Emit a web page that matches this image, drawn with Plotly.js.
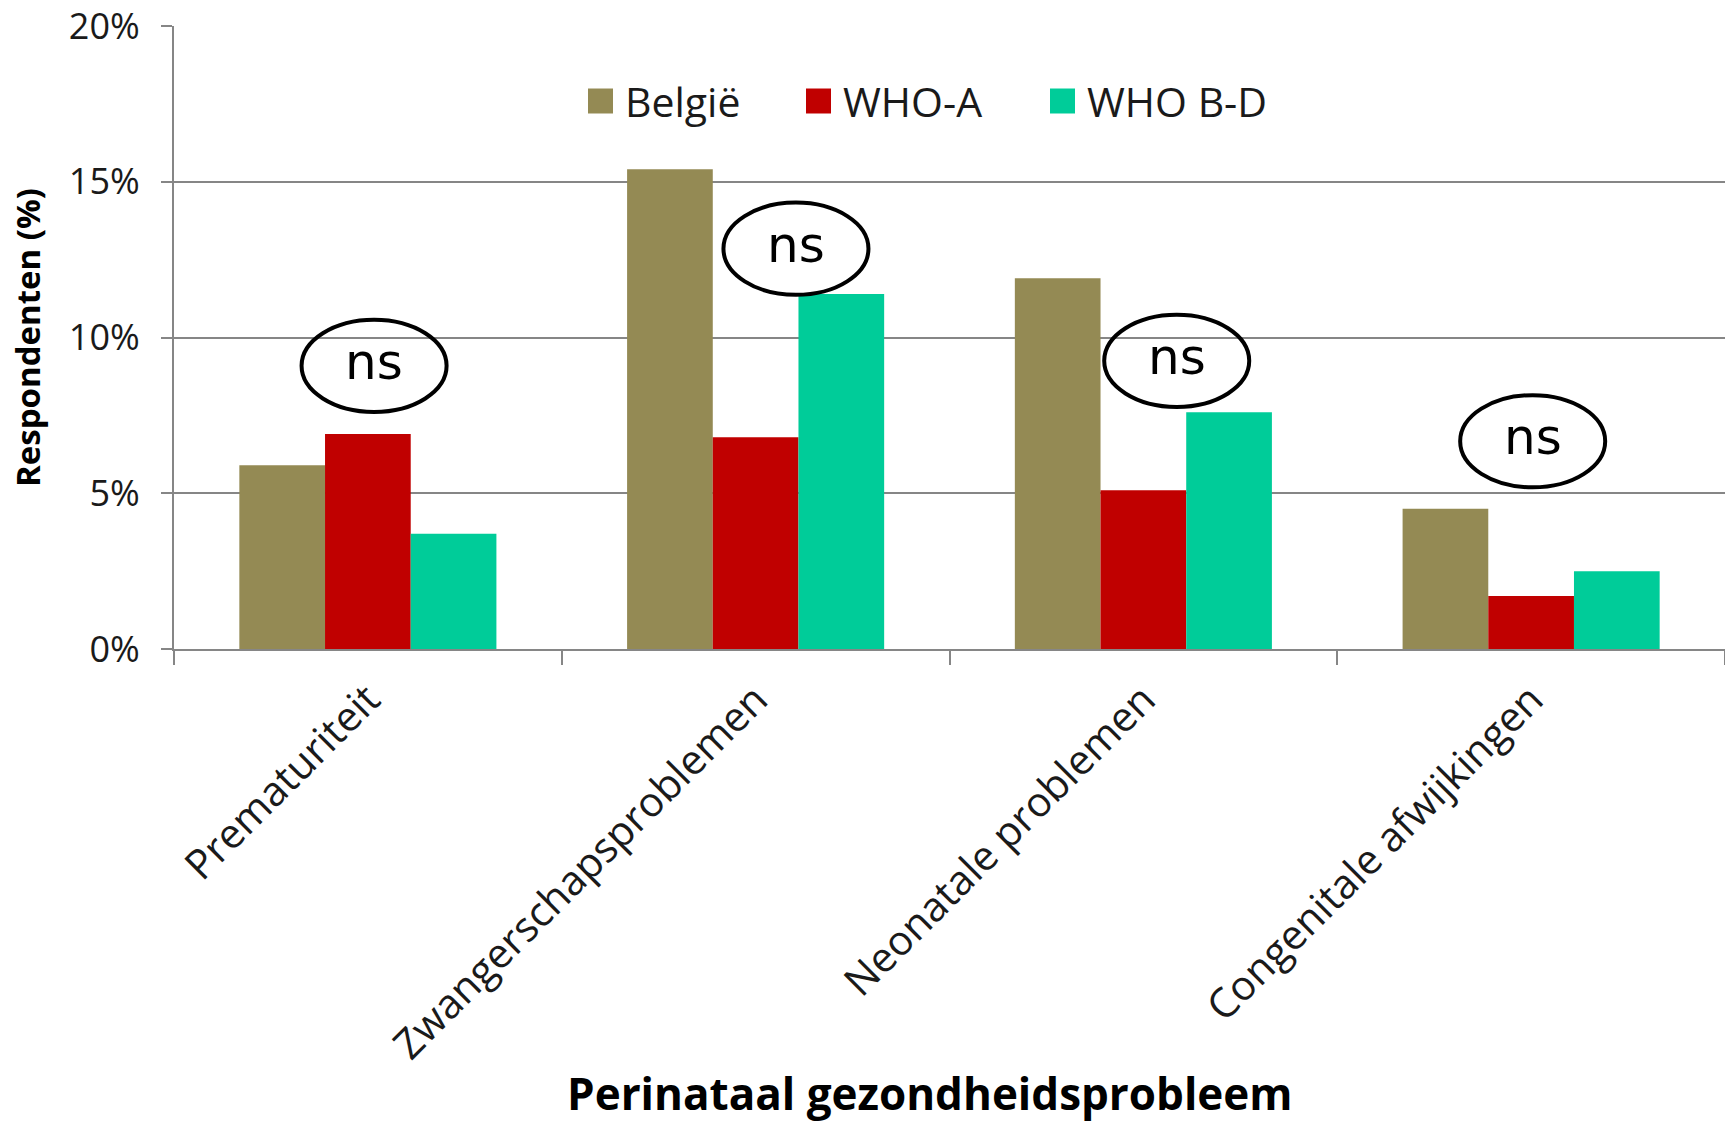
<!DOCTYPE html>
<html>
<head>
<meta charset="utf-8">
<script src="https://cdn.plot.ly/plotly-3.0.1.min.js"></script>
<style>html,body{margin:0;padding:0;background:#fff;}#chart{width:1725px;height:1131px;}</style>
</head>
<body>
<div id="chart"></div>
<script>
// ---- data ----
const categories = ['Prematuriteit', 'Zwangerschapsproblemen', 'Neonatale problemen', 'Congenitale afwijkingen'];
const seriesNames = ['België', 'WHO-A', 'WHO B-D'];
const belgie = [5.9, 15.4, 11.9, 4.5];
const whoA = [6.9, 6.8, 5.1, 1.7];
const whoBD = [3.7, 11.4, 7.6, 2.5];
const significance = ['ns', 'ns', 'ns', 'ns'];
const yTickVals = [0, 5, 10, 15, 20];
const yTickText = ['0%', '5%', '10%', '15%', '20%'];
const xTitle = 'Perinataal gezondheidsprobleem';
const yTitle = 'Respondenten (%)';

// ---- styling ----
const colors = ['#948A54', '#C00000', '#00CC99'];
const W = 1725, H = 1131;
const M = {l: 174, r: 0, t: 26, b: 482};
const gray = '#868686';
const txt = '#1a1a1a';
// ellipse centres (category index offset, y in %) and half sizes
const nsPos = [[0.016, 9.09], [1.104, 12.85], [2.086, 9.25], [3.004, 6.67]];
const nsRx = 0.187, nsRy = 1.48;
// legend placement in pixels
const legendX = [588, 806, 1050];
const legendY = 101, legendSq = 25;
// x title placement in pixels
const xTitleX = 930, xTitleY = 1093;

const pw = W - M.l - M.r, ph = H - M.t - M.b;
const px2x = p => (p - M.l) / pw;
const px2y = p => (H - M.b - p) / ph;

const series = [belgie, whoA, whoBD];
const traces = series.map((vals, i) => ({
  type: 'bar',
  name: seriesNames[i],
  x: categories,
  y: vals,
  marker: {color: colors[i], line: {width: 0}},
  showlegend: false,
  hoverinfo: 'skip'
}));

const shapes = [];
const annotations = [];
nsPos.forEach((p, i) => {
  shapes.push({type: 'circle', xref: 'x', yref: 'y',
    x0: p[0] - nsRx, x1: p[0] + nsRx, y0: p[1] - nsRy, y1: p[1] + nsRy,
    line: {color: '#000', width: 4}, fillcolor: 'rgba(255,255,255,0)'});
  annotations.push({xref: 'x', yref: 'y', x: p[0], y: p[1], text: significance[i],
    showarrow: false, xanchor: 'center', yanchor: 'middle', yshift: 4,
    font: {family: 'DejaVu Sans', size: 50, color: '#000'}});
});
seriesNames.forEach((n, i) => {
  shapes.push({type: 'rect', xref: 'paper', yref: 'paper',
    x0: px2x(legendX[i]), x1: px2x(legendX[i] + legendSq),
    y0: px2y(legendY + legendSq / 2), y1: px2y(legendY - legendSq / 2),
    line: {width: 0}, fillcolor: colors[i]});
  annotations.push({xref: 'paper', yref: 'paper', x: px2x(legendX[i] + legendSq + 10), y: px2y(legendY),
    text: n, showarrow: false, xanchor: 'left', yanchor: 'middle',
    font: {family: 'Open Sans', size: 41, color: txt}});
});
annotations.push({xref: 'paper', yref: 'paper', x: px2x(xTitleX), y: px2y(xTitleY),
  text: xTitle, showarrow: false, xanchor: 'center', yanchor: 'middle',
  font: {family: 'Open Sans', size: 44, weight: 'bold', color: '#000'}});

const layout = {
  width: W, height: H,
  margin: M,
  paper_bgcolor: '#fff', plot_bgcolor: '#fff',
  font: {family: 'Open Sans', color: txt},
  barmode: 'group', bargap: 0.337, bargroupgap: 0,
  showlegend: false,
  xaxis: {
    type: 'category', range: [-0.5, 3.5], automargin: false,
    tickangle: -45, tickfont: {size: 41, color: txt},
    ticks: 'outside', tickson: 'boundaries', ticklen: 14, tickwidth: 2, tickcolor: gray,
    ticklabelstandoff: 8,
    showline: true, linecolor: gray, linewidth: 2, showgrid: false, zeroline: false
  },
  yaxis: {
    range: [0, 20], automargin: false,
    tickmode: 'array', tickvals: yTickVals, ticktext: yTickText,
    tickfont: {size: 36, color: txt},
    ticks: 'outside', ticklen: 11, tickwidth: 2, tickcolor: gray, ticklabelstandoff: 14,
    showline: true, linecolor: gray, linewidth: 2,
    showgrid: true, gridcolor: gray, gridwidth: 2, zeroline: false,
    title: {text: yTitle, font: {size: 33, weight: 'bold', color: '#000'}, standoff: 18}
  },
  shapes: shapes,
  annotations: annotations
};

Plotly.newPlot('chart', traces, layout, {displayModeBar: false, staticPlot: true});
</script>
</body>
</html>
